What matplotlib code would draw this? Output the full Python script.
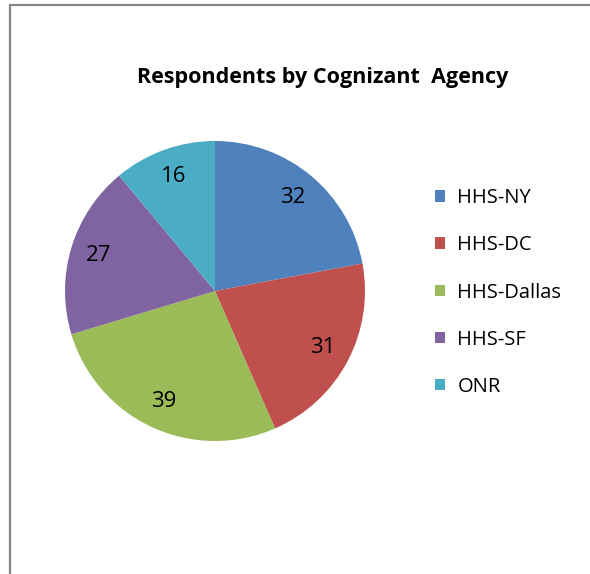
import matplotlib.pyplot as plt
from matplotlib.patches import Rectangle

agencies = ['HHS-NY', 'HHS-DC', 'HHS-Dallas', 'HHS-SF', 'ONR']
counts = [32, 31, 39, 27, 16]
colors = ['#4F81BD', '#C0504D', '#9BBB59', '#8064A2', '#4BACC6']

plt.rcParams['font.family'] = ['Open Sans', 'DejaVu Sans']

W, H = 590, 574
fig = plt.figure(figsize=(W / 100, H / 100), dpi=100)

# chart-area border (only top and left visible, rest is cropped)
fig.patches.append(Rectangle((9.5 / W, -0.1), 1.2, 1.1 - 4.5 / H, transform=fig.transFigure,
                             fill=False, edgecolor='#868686', linewidth=1.6))

# pie: centre (215, 291), radius 150 px
ax = fig.add_axes([65 / W, (H - 441) / H, 300 / W, 300 / H])
total = sum(counts)
wedges, texts, autotexts = ax.pie(counts, colors=colors, startangle=90, counterclock=False,
                                  autopct=lambda p: '%d' % round(p * total / 100),
                                  pctdistance=0.81, textprops={'fontsize': 16, 'color': 'black'})
ax.set_xlim(-1, 1)
ax.set_ylim(-1, 1)
ax.set_aspect('equal')

fig.text(323 / W, 1 - 77 / H, 'Respondents by Cognizant  Agency', ha='center', va='center',
         fontsize=15.5, fontweight='bold')

fig.legend(wedges, agencies, loc='upper left', bbox_to_anchor=(417 / W, 1 - 170 / H),
           frameon=False, fontsize=14.5, handlelength=0.5, handleheight=0.5,
           handletextpad=0.6, labelspacing=1.35)

fig.savefig('out.png', dpi=100)
